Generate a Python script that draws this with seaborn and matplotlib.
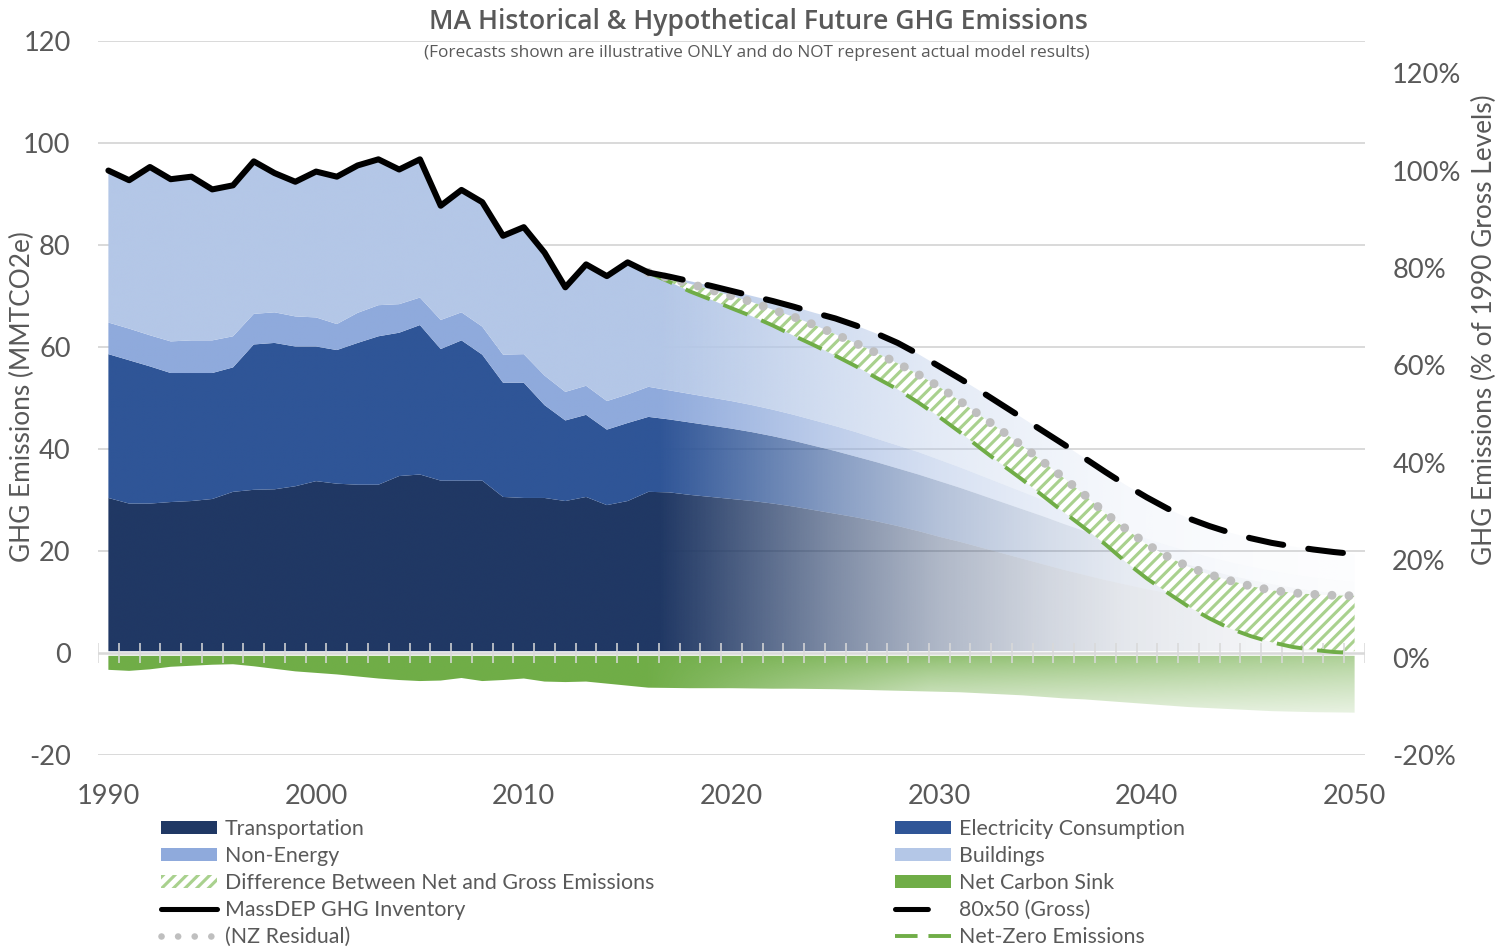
import numpy as np
import pandas as pd
import matplotlib
matplotlib.use("Agg")
import matplotlib.pyplot as plt
import matplotlib.patches as mpatches
import matplotlib.lines as mlines
import matplotlib.colors as mcolors
import seaborn as sns

# ---------------- data (MMTCO2e) ----------------
years_hist = list(range(1990, 2017))
transport_hist = [30.4, 29.3, 29.3, 29.6, 29.8, 30.2, 31.6, 32.0, 32.1, 32.7, 33.7, 33.2, 33.0, 33.0,
                  34.7, 35.0, 33.8, 33.8, 33.8, 30.6, 30.4, 30.4, 29.8, 30.6, 29.0, 29.8, 31.6]
electricity_hist = [28.2, 28.1, 26.9, 25.3, 25.1, 24.7, 24.4, 28.5, 28.7, 27.4, 26.4, 26.2, 27.8, 29.1,
                    28.1, 29.3, 25.8, 27.5, 24.7, 22.4, 22.6, 18.2, 15.8, 16.1, 14.8, 15.3, 14.7]
nonenergy_hist = [6.2, 6.2, 6.1, 6.2, 6.4, 6.4, 6.1, 6.0, 6.0, 5.9, 5.7, 5.1, 5.9, 6.1,
                  5.6, 5.4, 5.7, 5.5, 5.5, 5.5, 5.6, 5.8, 5.6, 5.7, 5.6, 5.6, 5.9]
buildings_hist = [29.8, 29.1, 33.0, 31.8, 32.1, 29.6, 29.6, 29.9, 27.3, 26.4, 28.6, 28.9, 28.9, 28.6,
                  26.4, 27.1, 22.4, 24.0, 24.4, 23.3, 24.9, 24.1, 20.5, 23.8, 24.5, 25.9, 22.4]
inventory = [94.6, 92.7, 95.3, 92.9, 93.4, 90.9, 91.7, 96.4, 94.1, 92.4, 94.4, 93.4, 95.6, 96.8,
             94.8, 96.8, 87.7, 90.8, 88.4, 81.8, 83.5, 78.5, 71.7, 76.2, 73.9, 76.6, 74.6]
sink_hist = [-3.3, -3.5, -3.2, -2.7, -2.5, -2.3, -2.2, -2.6, -3.1, -3.6, -3.9, -4.2, -4.6, -5.0,
             -5.3, -5.5, -5.4, -4.9, -5.5, -5.3, -5.0, -5.6, -5.7, -5.6, -6.0, -6.4, -6.8]

years_proj = list(range(2017, 2051))
transport_proj = [31.5, 31.0, 30.6, 30.2, 29.8, 29.3, 28.7, 28.0, 27.3, 26.6, 25.8, 24.9, 23.9, 22.8,
                  21.8, 20.7, 19.6, 18.5, 17.4, 16.3, 15.3, 14.3, 13.4, 12.5, 11.7, 10.9, 10.2, 9.5,
                  8.9, 8.3, 7.8, 7.3, 6.9, 6.5]
electricity_proj = [14.3, 14.2, 14.0, 13.8, 13.5, 13.2, 12.9, 12.6, 12.3, 11.9, 11.6, 11.3, 11.1, 10.9,
                    10.6, 10.3, 10.0, 9.7, 9.4, 9.0, 8.6, 8.2, 7.7, 7.3, 6.8, 6.4, 6.0, 5.7,
                    5.4, 5.2, 5.0, 4.9, 4.8, 4.7]
nonenergy_proj = [5.7, 5.6, 5.5, 5.4, 5.3, 5.2, 5.1, 5.0, 4.9, 4.8, 4.6, 4.5, 4.4, 4.2,
                  4.0, 3.8, 3.6, 3.4, 3.2, 3.1, 2.9, 2.8, 2.7, 2.6, 2.6, 2.6, 2.6, 2.6,
                  2.6, 2.6, 2.6, 2.6, 2.6, 2.7]
buildings_proj = [22.3, 22.1, 21.9, 21.6, 21.4, 21.3, 21.2, 21.1, 21.1, 20.9, 20.6, 20.1, 19.2, 18.3,
                  17.4, 16.5, 15.5, 14.5, 13.5, 12.5, 11.4, 10.2, 9.1, 8.1, 7.2, 6.5, 6.1, 5.8,
                  5.6, 5.5, 5.5, 5.5, 5.5, 5.5]
sink_proj = [-6.85, -6.9, -6.9, -6.9, -6.95, -7.0, -7.0, -7.05, -7.1, -7.2, -7.3, -7.4, -7.5, -7.6,
             -7.7, -7.9, -8.1, -8.3, -8.6, -8.9, -9.1, -9.4, -9.7, -10.0, -10.3, -10.6, -10.8, -11.0,
             -11.2, -11.4, -11.5, -11.6, -11.65, -11.7]

years_path = list(range(2016, 2051))
gross_80x50 = [74.6, 73.8, 72.9, 72.0, 71.0, 70.0, 69.0, 67.9, 66.7, 65.6, 64.2, 62.6, 60.8, 58.6,
               56.2, 53.8, 51.3, 48.7, 46.1, 43.5, 40.9, 38.2, 35.5, 32.9, 30.5, 28.3, 26.4, 24.9,
               23.6, 22.5, 21.6, 20.9, 20.3, 19.8, 19.4]
nz_residual = [74.6, 73.5, 72.4, 71.2, 70.0, 68.8, 67.3, 65.9, 64.3, 62.5, 60.7, 58.8, 56.8, 54.6,
               52.2, 49.4, 46.5, 43.6, 40.6, 37.5, 34.3, 31.0, 27.4, 24.3, 21.3, 18.9, 16.9, 15.4,
               14.2, 13.1, 12.3, 11.8, 11.5, 11.3, 11.2]
net_zero = [74.6, 72.8, 70.9, 69.3, 67.6, 66.0, 64.2, 62.2, 60.3, 58.3, 56.2, 53.9, 51.7, 49.1,
            46.3, 43.3, 40.1, 37.0, 34.0, 30.8, 27.6, 24.5, 21.3, 17.8, 14.6, 11.8, 9.1, 6.8,
            4.8, 3.3, 2.1, 1.2, 0.6, 0.2, 0.0]

year_ticks = [1990, 2000, 2010, 2020, 2030, 2040, 2050]
mmt_ticks = [-20, 0, 20, 40, 60, 80, 100, 120]
pct_ticks = [-20, 0, 20, 40, 60, 80, 100, 120]

title = "MA Historical & Hypothetical Future GHG Emissions"
subtitle = "(Forecasts shown are illustrative ONLY and do NOT represent actual model results)"
ylabel_left = "GHG Emissions (MMTCO2e)"
ylabel_right = "GHG Emissions (% of 1990 Gross Levels)"

# ---------------- style ----------------
C_TRANS = "#203864"
C_ELEC = "#2F5597"
C_NONE = "#8FAADC"
C_BLDG = "#B4C7E7"
C_SINK = "#70AD47"
C_HATCH = "#A9D18E"
C_DOTS = "#BFBFBF"
C_TEXT = "#595959"
C_GRID = "#D9D9D9"

sns.set_theme(style="white")
plt.rcParams["font.family"] = ["Lato", "DejaVu Sans"]
plt.rcParams["hatch.linewidth"] = 1.6
plt.rcParams["hatch.color"] = C_HATCH

W, H, DPI = 1498, 949, 140
fig = plt.figure(figsize=(W / DPI, H / DPI), dpi=DPI)
ax = fig.add_axes([98 / W, 1 - 755 / H, (1365 - 98) / W, (755 - 41) / H])

XMIN, XMAX, YMIN, YMAX = 1989.5, 2050.5, -20, 120

# stacked table
sectors = pd.DataFrame({
    "year": years_hist + years_proj,
    "Transportation": transport_hist + transport_proj,
    "Electricity Consumption": electricity_hist + electricity_proj,
    "Non-Energy": nonenergy_hist + nonenergy_proj,
    "Buildings": buildings_hist + buildings_proj,
    "Net Carbon Sink": sink_hist + sink_proj,
})
order = ["Transportation", "Electricity Consumption", "Non-Energy", "Buildings"]
colors = [C_TRANS, C_ELEC, C_NONE, C_BLDG]
cum = sectors[order].cumsum(axis=1)

fade_x = [2016.6, 2018.0, 2021.7, 2024.9, 2030.0, 2035.0, 2039.0, 2045.6, 2050.5]
fade_a = [1.0, 0.93, 0.74, 0.58, 0.36, 0.21, 0.12, 0.05, 0.03]


def blue_alpha(X, Y):
    return np.interp(X, fade_x, fade_a)


def green_alpha(X, Y):
    t = np.clip((X - 2016.0) / 34.0, 0, 1)
    d = np.clip(-Y / 12.0, 0, 1)
    return (1 - 0.38 * t) * (1 - 0.75 * np.clip(2.5 * t, 0, 1) * d ** 0.8)


xs = np.linspace(XMIN, XMAX, 1300)
ys = np.linspace(YMIN, YMAX, 700)
GX, GY = np.meshgrid(xs, ys)


def gradient_fill(x, y1, y2, color, alpha_fn, zorder):
    poly = ax.fill_between(x, y1, y2, facecolor="none", edgecolor="none", linewidth=0)
    path = poly.get_paths()[0]
    rgba = np.zeros(GX.shape + (4,))
    rgba[..., :3] = mcolors.to_rgb(color)
    rgba[..., 3] = alpha_fn(GX, GY)
    im = ax.imshow(rgba, extent=(XMIN, XMAX, YMIN, YMAX), origin="lower",
                   aspect="auto", interpolation="bilinear", zorder=zorder)
    im.set_clip_path(path, transform=ax.transData)


yrs = sectors["year"].values
bottom = np.zeros(len(yrs))
for i, (name, col) in enumerate(zip(order, colors)):
    top = cum[name].values
    gradient_fill(yrs, bottom, top, col, blue_alpha, 1 + i * 0.01)
    bottom = top
gradient_fill(yrs, np.zeros(len(yrs)), sectors["Net Carbon Sink"].values, C_SINK, green_alpha, 1.1)

# hatch: difference between net and gross
paths = pd.DataFrame({"year": years_path, "gross": gross_80x50, "resid": nz_residual, "net": net_zero})
ax.fill_between(paths["year"], paths["net"], paths["resid"], facecolor="white",
                edgecolor=C_HATCH, hatch="////", linewidth=0, zorder=3)

# zero axis with year boundary ticks
ax.axhline(0, color="white", lw=2.4, zorder=4)
ax.axhline(0, color=C_GRID, lw=1.3, zorder=4.1)
bounds = np.arange(XMIN, XMAX + 0.01, 1.0)
ax.vlines(bounds, -2.0, 2.0, color=C_GRID, lw=0.8, zorder=4.2)

# lines
inv = pd.DataFrame({"year": years_hist, "inv": inventory})
sns.lineplot(data=paths, x="year", y="net", ax=ax, color=C_SINK, linewidth=2.0, zorder=5)
ax.lines[-1].set_dashes((6.7, 3.8))
sns.lineplot(data=paths, x="year", y="resid", ax=ax, color=C_DOTS, linewidth=4.6, zorder=5.2)
ax.lines[-1].set_dashes((0.01, 1.9))
ax.lines[-1].set_dash_capstyle("round")
sns.lineplot(data=paths, x="year", y="gross", ax=ax, color="black", linewidth=3.1, zorder=5.4)
ax.lines[-1].set_dashes((5.8, 4.2))
ax.lines[-1].set_dash_capstyle("round")
sns.lineplot(data=inv, x="year", y="inv", ax=ax, color="black", linewidth=3.1, zorder=6)
ax.lines[-1].set_solid_joinstyle("round")
ax.lines[-1].set_solid_capstyle("round")

# axes styling
ax.set_xlim(XMIN, XMAX)
ax.set_ylim(YMIN, YMAX)
ax.set_xlabel("")
ax.set_ylabel("")
ax.set_xticks(year_ticks)
ax.set_xticklabels([str(y) for y in year_ticks])
ax.set_yticks(mmt_ticks)
ax.set_yticklabels([str(v) for v in mmt_ticks])
ax.tick_params(axis="x", length=0, pad=15, labelsize=14, labelcolor=C_TEXT)
ax.tick_params(axis="y", length=0, pad=14, labelsize=14, labelcolor=C_TEXT)
ax.grid(axis="y", color=C_GRID, lw=1.0, zorder=0)
ax.grid(axis="x", visible=False)
ax.set_axisbelow(True)
for s in ax.spines.values():
    s.set_visible(False)

ax2 = ax.twinx()
ax2.set_ylim(-20, 126.6)
ax2.set_yticks(pct_ticks)
ax2.set_yticklabels([f"{v}%" for v in pct_ticks])
ax2.tick_params(axis="y", length=0, pad=14, labelsize=14, labelcolor=C_TEXT)
ax2.grid(False)
for s in ax2.spines.values():
    s.set_visible(False)

# texts
fig.text(758 / W, 1 - 22 / H, title, ha="center", va="center", fontsize=13.7,
         fontweight="semibold", family=["Open Sans", "DejaVu Sans"], color=C_TEXT)
fig.text(757 / W, 1 - 53 / H, subtitle, ha="center", va="center", fontsize=8.9,
         family=["Open Sans", "DejaVu Sans"], color=C_TEXT)
fig.text(22 / W, 1 - 397 / H, ylabel_left, rotation=90, ha="center", va="center",
         fontsize=13.5, color=C_TEXT)
fig.text(1484 / W, 1 - 330 / H, ylabel_right, rotation=90, ha="center", va="center",
         fontsize=13.5, color=C_TEXT)

# legend
h_trans = mpatches.Patch(facecolor=C_TRANS, edgecolor="none", label="Transportation")
h_none = mpatches.Patch(facecolor=C_NONE, edgecolor="none", label="Non-Energy")
h_hatch = mpatches.Patch(facecolor="white", edgecolor=C_HATCH, hatch="////", linewidth=0,
                         label="Difference Between Net and Gross Emissions")
h_inv = mlines.Line2D([], [], color="black", lw=2.6, solid_capstyle="round",
                      label="MassDEP GHG Inventory")
h_dots = mlines.Line2D([], [], color=C_DOTS, lw=3.4, dashes=(0.01, 2.5),
                       dash_capstyle="round", label="(NZ Residual)")
h_elec = mpatches.Patch(facecolor=C_ELEC, edgecolor="none", label="Electricity Consumption")
h_bldg = mpatches.Patch(facecolor=C_BLDG, edgecolor="none", label="Buildings")
h_sink = mpatches.Patch(facecolor=C_SINK, edgecolor="none", label="Net Carbon Sink")
h_gross = mlines.Line2D([], [], color="black", lw=2.6, dashes=(6.5, 5.0),
                        dash_capstyle="round", label="80x50 (Gross)")
h_net = mlines.Line2D([], [], color=C_SINK, lw=2.0, dashes=(5.8, 2.8), label="Net-Zero Emissions")

leg_kw = dict(frameon=False, fontsize=11, handlelength=2.6, handleheight=0.5,
              handletextpad=0.37, labelspacing=0.33, borderpad=0, borderaxespad=0,
              loc="upper left", labelcolor=C_TEXT)
leg1 = fig.legend(handles=[h_trans, h_none, h_hatch, h_inv, h_dots],
                  bbox_to_anchor=(161 / W, 1 - 819 / H), **leg_kw)
leg2 = fig.legend(handles=[h_elec, h_bldg, h_sink, h_gross, h_net],
                  bbox_to_anchor=(895 / W, 1 - 819 / H), **leg_kw)

fig.savefig("out.png", dpi=DPI, facecolor="white")
